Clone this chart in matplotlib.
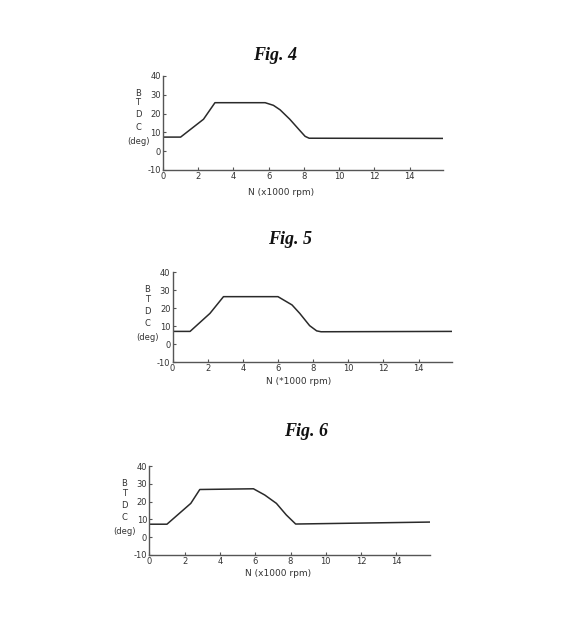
import matplotlib
matplotlib.use("Agg")
import matplotlib.pyplot as plt

plt.rcParams["axes.unicode_minus"] = False

W, H = 575, 622

# ---- data (N in x1000 rpm, BTDC in deg) ----
fig4_n = [0, 1.0, 2.3, 2.95, 5.8, 6.27, 6.65, 7.2, 7.78, 8.07, 8.3, 15.9]
fig4_btdc = [7.5, 7.5, 17.0, 25.8, 25.8, 24.4, 22.0, 17.0, 10.9, 7.9, 6.9, 6.8]

fig5_n = [0, 1.0, 2.13, 2.9, 6.0, 6.8, 7.24, 7.8, 8.2, 8.45, 15.9]
fig5_btdc = [7.0, 7.0, 17.0, 26.3, 26.3, 21.7, 17.0, 10.2, 7.3, 6.8, 7.0]

fig6_n = [0, 1.0, 2.35, 2.86, 5.9, 6.54, 7.2, 7.76, 8.29, 15.9]
fig6_btdc = [7.3, 7.3, 19.0, 26.8, 27.2, 23.7, 19.0, 12.5, 7.4, 8.5]

x_ticks = [0, 2, 4, 6, 8, 10, 12, 14]
y_ticks = [-10, 0, 10, 20, 30, 40]
titles = ["Fig. 4", "Fig. 5", "Fig. 6"]
xlabels = ["N (x1000 rpm)", "N (*1000 rpm)", "N (x1000 rpm)"]
ylabel_parts = ["B", "T", "D", "C", "(deg)"]

# ---- layout in pixels ----
panels = [
    dict(n=fig4_n, v=fig4_btdc, box=(163, 443, 76, 170), title=(275, 55),
         xl=(0.42, 193)),
    dict(n=fig5_n, v=fig5_btdc, box=(172.5, 452, 272, 362), title=(290, 240),
         xl=(0.45, 381)),
    dict(n=fig6_n, v=fig6_btdc, box=(149.3, 430, 466, 555), title=(306, 432),
         xl=(0.46, 573)),
]
ylab_offsets = [18, 27, 39, 52, 66]

fig = plt.figure(figsize=(W / 100, H / 100), dpi=100)
fig.patch.set_facecolor("white")

ink = "#2a2a2a"
axis_col = "#555555"

for i, p in enumerate(panels):
    l, r, t, b = p["box"]
    ax = fig.add_axes([l / W, 1 - b / H, (r - l) / W, (b - t) / H])
    ax.plot(p["n"], p["v"], color=ink, lw=1.1)
    ax.set_xlim(0, 15.9)
    ax.set_ylim(-10, 40)
    ax.set_xticks(x_ticks)
    ax.set_yticks(y_ticks)
    ax.tick_params(direction="in", length=2.5, width=0.8, colors=axis_col,
                   labelsize=6, labelcolor="#333333", pad=1.5)
    for s in ["top", "right"]:
        ax.spines[s].set_visible(False)
    for s in ["left", "bottom"]:
        ax.spines[s].set_color(axis_col)
        ax.spines[s].set_linewidth(1.0)
    ax.patch.set_alpha(0)

    hp = b - t
    wp = r - l
    for txt, off in zip(ylabel_parts, ylab_offsets):
        ax.text(-25 / wp, 1 - off / hp, txt, transform=ax.transAxes,
                ha="center", va="center", fontsize=6, color="#333333")
    xf, ypx = p["xl"]
    ax.text(xf, -(ypx - b) / hp, xlabels[i], transform=ax.transAxes,
            ha="center", va="center", fontsize=6.5, color="#333333")

    tx, ty = p["title"]
    fig.text(tx / W, 1 - ty / H, titles[i], ha="center", va="center",
             fontsize=13, fontweight="bold", style="italic",
             family="Liberation Serif", color="#111111")

fig.savefig("out.png", dpi=100, facecolor="white")
